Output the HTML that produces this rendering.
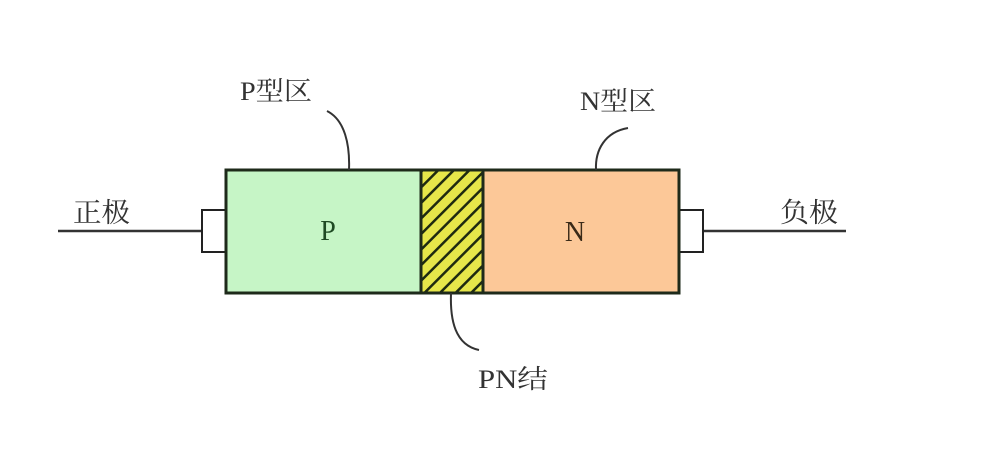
<!DOCTYPE html>
<html><head><meta charset="utf-8"><style>
html,body{margin:0;padding:0;background:#fff;}
svg{display:block;}
text{font-family:"Liberation Serif","Noto Serif CJK SC",serif;fill:#333;}
</style></head><body>
<svg width="982" height="474" viewBox="0 0 982 474" xmlns="http://www.w3.org/2000/svg">
<defs>
<pattern id="h" patternUnits="userSpaceOnUse" width="11" height="11" patternTransform="rotate(45)">
<rect width="11" height="11" fill="#e6e64a"/>
<rect x="0" y="0" width="2.5" height="11" fill="#1e2a10"/>
</pattern>
</defs>
<rect width="982" height="474" fill="#fff"/>
<line x1="58" y1="231" x2="202" y2="231" stroke="#333" stroke-width="2.5"/>
<line x1="703" y1="231" x2="846" y2="231" stroke="#333" stroke-width="2.5"/>
<rect x="202" y="210" width="24" height="42" fill="#fff" stroke="#222" stroke-width="2"/>
<rect x="679" y="210" width="24" height="42" fill="#fff" stroke="#222" stroke-width="2"/>
<rect x="226" y="170" width="195" height="123" fill="#c6f5c6"/>
<rect x="421" y="170" width="62" height="123" fill="url(#h)"/>
<rect x="483" y="170" width="196" height="123" fill="#fcc898"/>
<rect x="226" y="170" width="453" height="123" fill="none" stroke="#1e2a1a" stroke-width="3"/>
<line x1="421" y1="170" x2="421" y2="293" stroke="#1e2a1a" stroke-width="3"/>
<line x1="483" y1="170" x2="483" y2="293" stroke="#1e2a1a" stroke-width="3"/>
<text x="328" y="240" font-size="28" text-anchor="middle" style="fill:#1f4a24">P</text>
<text x="575" y="241" font-size="28" text-anchor="middle" style="fill:#3a2a18">N</text>
<path d="M327 111 C345 120 350 145 349 170" fill="none" stroke="#333" stroke-width="2"/>
<path d="M628 128 C605 132 595 150 596 170" fill="none" stroke="#333" stroke-width="2"/>
<path d="M451 293 C450 320 455 345 479 350" fill="none" stroke="#333" stroke-width="2"/>
<text x="240" y="100" font-size="26" textLength="72" lengthAdjust="spacingAndGlyphs">P型区</text>
<text x="580" y="110" font-size="26" textLength="76" lengthAdjust="spacingAndGlyphs">N型区</text>
<text x="478" y="388" font-size="26" textLength="70" lengthAdjust="spacingAndGlyphs">PN结</text>
<text x="73" y="222" font-size="27" textLength="57" lengthAdjust="spacingAndGlyphs">正极</text>
<text x="780" y="222" font-size="27" textLength="58" lengthAdjust="spacingAndGlyphs">负极</text>
</svg>
</body></html>
